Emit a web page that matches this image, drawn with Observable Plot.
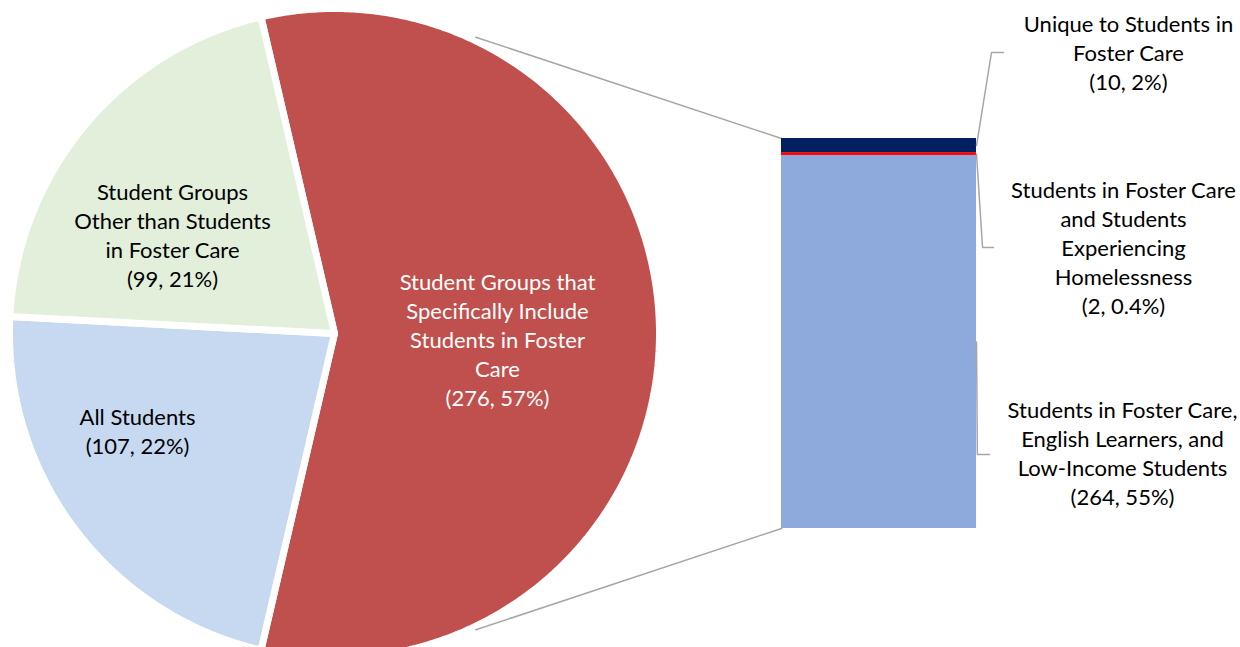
<!DOCTYPE html>
<html><head><meta charset="utf-8">
<script src="https://cdn.jsdelivr.net/npm/d3@7"></script>
<script src="https://cdn.jsdelivr.net/npm/@observablehq/plot@0.6"></script>
<style>
html,body{margin:0;padding:0;background:#fff;overflow:hidden;}
#chart svg{display:block;overflow:hidden;}
</style>
</head><body><div id="chart"></div>
<script>
// ---------- DATA ----------
const pieCategories = ["Student Groups that\nSpecifically Include\nStudents in Foster\nCare", "All Students", "Student Groups\nOther than Students\nin Foster Care"];
const pieValues = [276, 107, 99];
const piePercents = ["57%", "22%", "21%"];
const pieColors = ["#C0504D", "#C6D9F1", "#E2EFDA"];
const pieTextColors = ["#FFFFFF", "#000000", "#000000"];

const barCategories = ["Students in Foster Care,\nEnglish Learners, and\nLow-Income Students", "Students in Foster Care\nand Students\nExperiencing\nHomelessness", "Unique to Students in\nFoster Care"];
const barValues = [264, 2, 10];
const barPercents = ["55%", "0.4%", "2%"];
const barColors = ["#8EA9DB", "#FF0000", "#002060"];

// ---------- LAYOUT (pie radius = 1 unit) ----------
const FONT = "Lato, 'Noto Sans', sans-serif";
const FS = 22;
const pieLabelPos = [[0.5015, -0.026], [-0.606, -0.3062], [-0.4985, 0.2954]];
const barLabelPos = [[2.4246, -0.3738], [2.4277, 0.2585], [2.443, 0.8585]];
const barX1 = 1.3754, barX2 = 1.9754, barBottom = -0.6, barTop = 0.6;
const leaderElbow = [[1.978, -0.3723, 2.0154], [1.994, 0.2646, 2.0277], [2.0215, 0.8646, 2.0585]];

const total = d3.sum(pieValues);
const barTotal = d3.sum(barValues);
const barY = v => barBottom + (barTop - barBottom) * v / barTotal;

// pie slices as polygons (angles clockwise from top, first slice centered on the right)
const startAngle = 90 - 180 * pieValues[0] / total;
const cum = d3.cumsum(pieValues);
const slices = pieValues.map((v, i) => {
  const a0 = startAngle + 360 * (cum[i] - v) / total;
  const a1 = startAngle + 360 * cum[i] / total;
  const pts = [{x: 0, y: 0}];
  const n = Math.ceil((a1 - a0) / 0.5);
  for (let k = 0; k <= n; k++) {
    const a = (a0 + (a1 - a0) * k / n) * Math.PI / 180;
    pts.push({x: Math.sin(a), y: Math.cos(a)});
  }
  pts.push({x: 0, y: 0});
  return {pts, a0, a1};
});

// bar segments
const bcum = d3.cumsum(barValues);
const barRows = barValues.map((v, i) => ({x1: barX1, x2: barX2, y1: barY(bcum[i] - v), y2: barY(bcum[i]), fill: barColors[i]}));

// connector lines from red slice to bar
const connA = [25.5, 154.5].map(a => a * Math.PI / 180);
const connectors = [
  {id: 0, x: 1.01 * Math.sin(connA[0]), y: 1.01 * Math.cos(connA[0])}, {id: 0, x: barX1, y: barTop},
  {id: 1, x: 1.01 * Math.sin(connA[1]), y: 1.01 * Math.cos(connA[1])}, {id: 1, x: barX1, y: barBottom}
];

// leader lines from bar segment middles to labels
const leaders = [];
barValues.forEach((v, i) => {
  const ym = barY(bcum[i] - v / 2);
  const [ex, ey, hx] = leaderElbow[i];
  leaders.push({id: i, x: barX2, y: ym}, {id: i, x: ex, y: ey}, {id: i, x: hx, y: ey});
});

const pieText = pieCategories.map((c, i) => ({x: pieLabelPos[i][0], y: pieLabelPos[i][1], text: `${c}\n(${pieValues[i]}, ${piePercents[i]})`, fill: pieTextColors[i]}));
const barText = barCategories.map((c, i) => ({x: barLabelPos[i][0], y: barLabelPos[i][1], text: `${c}\n(${barValues[i]}, ${barPercents[i]})`}));

const W = 1240, H = 647, PX = 325;
const cx = 334, cy = 333;
const chart = Plot.plot({
  width: W, height: H, margin: 0,
  x: {domain: [-cx / PX, (W - cx) / PX], axis: null},
  y: {domain: [-(H - cy) / PX, cy / PX], axis: null},
  style: {fontFamily: FONT, background: "#fff"},
  marks: [
    ...slices.map((s, i) => Plot.line(s.pts, {x: "x", y: "y", fill: pieColors[i], stroke: "#fff", strokeWidth: 7, strokeLinejoin: "miter", curve: "linear"})),
    Plot.line(connectors, {x: "x", y: "y", z: "id", stroke: "#A6A6A6", strokeWidth: 1.5}),
    Plot.rect(barRows, {x1: "x1", x2: "x2", y1: "y1", y2: "y2", fill: "fill"}),
    Plot.line(leaders, {x: "x", y: "y", z: "id", stroke: "#A6A6A6", strokeWidth: 1.5, strokeLinejoin: "miter"}),
    Plot.text(pieText, {x: "x", y: "y", dy: -3, text: "text", fill: "fill", fontSize: FS, lineHeight: 29 / FS, fontFamily: FONT}),
    Plot.text(barText, {x: "x", y: "y", dy: -3, text: "text", fill: "#000", fontSize: FS, lineHeight: 29 / FS, fontFamily: FONT})
  ]
});
document.getElementById("chart").appendChild(chart);
</script>
</body></html>
